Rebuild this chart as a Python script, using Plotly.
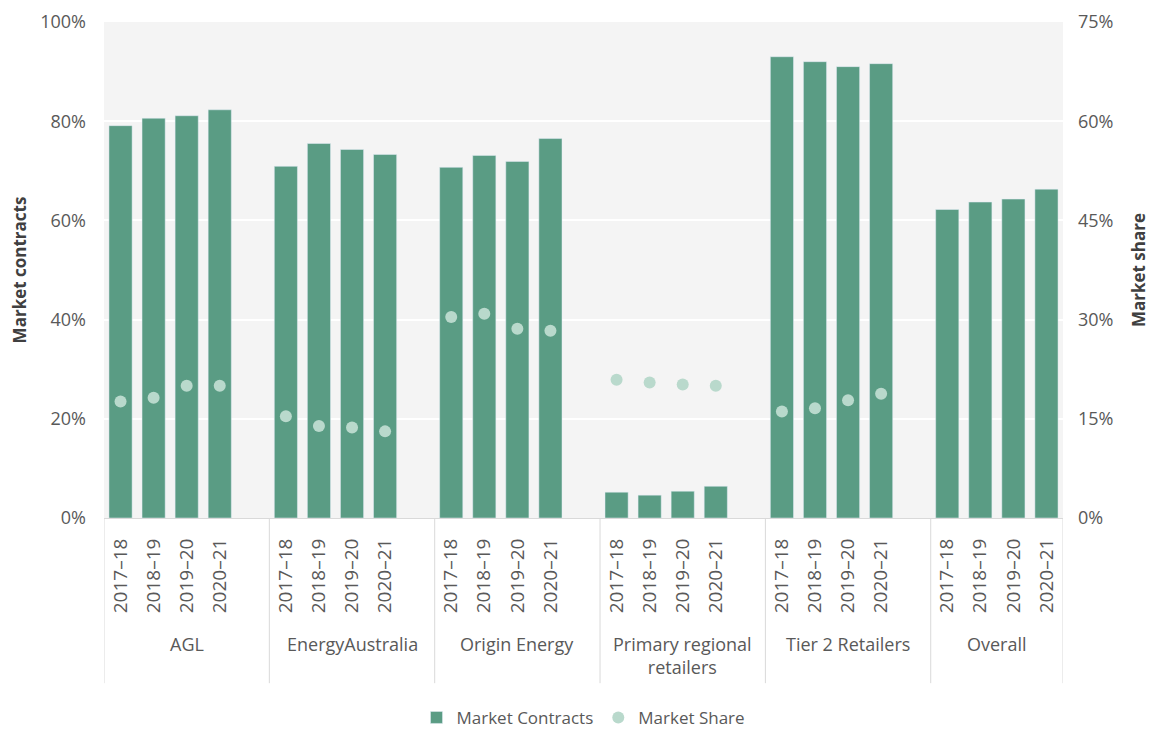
import plotly.graph_objects as go

groups = ["AGL", "EnergyAustralia", "Origin Energy", "Primary regional<br>retailers", "Tier 2 Retailers", "Overall"]
years = ["2017–18", "2018–19", "2019–20", "2020–21"]
contracts = {
    "AGL": [79.1, 80.6, 81.1, 82.3],
    "EnergyAustralia": [70.9, 75.5, 74.3, 73.3],
    "Origin Energy": [70.7, 73.1, 71.9, 76.5],
    "Primary regional<br>retailers": [5.2, 4.6, 5.4, 6.4],
    "Tier 2 Retailers": [93.0, 92.0, 91.0, 91.6],
    "Overall": [62.2, 63.7, 64.3, 66.3],
}
share = {
    "AGL": [17.6, 18.2, 20.0, 20.0],
    "EnergyAustralia": [15.4, 13.9, 13.7, 13.1],
    "Origin Energy": [30.4, 30.9, 28.6, 28.3],
    "Primary regional<br>retailers": [20.9, 20.5, 20.2, 20.0],
    "Tier 2 Retailers": [16.1, 16.6, 17.8, 18.8],
    "Overall": [None, None, None, None],
}

# category ids: each group has its four years plus a blank spacer slot (except the last)
xid, yc, ys, tickvals, ticktext = [], [], [], [], []
group_spans = []
for i, g in enumerate(groups):
    start = len(xid)
    for j, yr in enumerate(years):
        cid = f"{g}|{yr}"
        xid.append(cid); tickvals.append(cid); ticktext.append(yr)
        yc.append(contracts[g][j] / 100)
        ys.append(None if share[g][j] is None else share[g][j] / 100)
    if i < len(groups) - 1:
        xid.append(f"{g}|gap"); yc.append(None); ys.append(None)
    group_spans.append((start - 0.5, len(xid) - 0.5))

BAR = "#5a9c84"
DOT = "#b9d9cc"
FONT = "Open Sans"
GRAY = "#595959"
DIV = "#d9d9d9"

fig = go.Figure()
fig.add_trace(go.Bar(x=xid, y=yc, name="Market Contracts", marker_color=BAR, width=0.7))
fig.add_trace(go.Scatter(x=xid, y=ys, name="Market Share", mode="markers", yaxis="y2",
                         marker=dict(color=DOT, size=12)))

DIV_BOTTOM = -0.333
LABEL_TOP = -0.226
for (a, b), g in zip(group_spans, groups):
    fig.add_shape(type="line", xref="x", yref="paper", x0=a, x1=a, y0=0, y1=DIV_BOTTOM,
                  line=dict(color=DIV, width=1))
    fig.add_annotation(x=(a + b) / 2, xref="x", y=LABEL_TOP, yref="paper", text=g, showarrow=False,
                       yanchor="top", xanchor="center", font=dict(size=18, color=GRAY, family=FONT))
last_end = group_spans[-1][1]
fig.add_shape(type="line", xref="x", yref="paper", x0=last_end, x1=last_end, y0=0, y1=DIV_BOTTOM,
              line=dict(color=DIV, width=1))

fig.update_layout(
    width=1153, height=729,
    margin=dict(l=104, r=90, t=22, b=211, autoexpand=False),
    paper_bgcolor="white", plot_bgcolor="#f4f4f4",
    font=dict(family=FONT, size=17, color=GRAY),
    showlegend=True,
    legend=dict(orientation="h", x=0.5, xanchor="center", y=-0.403, yanchor="middle",
                font=dict(size=17, color=GRAY), itemwidth=30),
    xaxis=dict(type="category", tickmode="array", tickvals=tickvals, ticktext=ticktext,
               tickangle=-90, showgrid=False, showline=True, linecolor=DIV,
               range=[-0.5, len(xid) - 0.5], automargin=False, ticklabelstandoff=12, ticks="",
               tickfont=dict(size=19, color=GRAY)),
    yaxis=dict(range=[0, 1], tickformat=".0%", dtick=0.2, gridcolor="white", gridwidth=1.5,
               automargin=False,
               zeroline=False, title=dict(text="<b>Market contracts</b>", font=dict(size=17, color="#404040"), standoff=9),
               ticks="", ticklabelstandoff=17, tickfont=dict(size=18)),
    yaxis2=dict(range=[0, 0.75], tickformat=".0%", dtick=0.15, overlaying="y", side="right", showgrid=False,
                automargin=False,
                zeroline=False, title=dict(text="<b>Market share</b>", font=dict(size=17, color="#404040"), standoff=20),
                ticks="", ticklabelstandoff=14, tickfont=dict(size=18)),
)
fig.write_html("out.html")
